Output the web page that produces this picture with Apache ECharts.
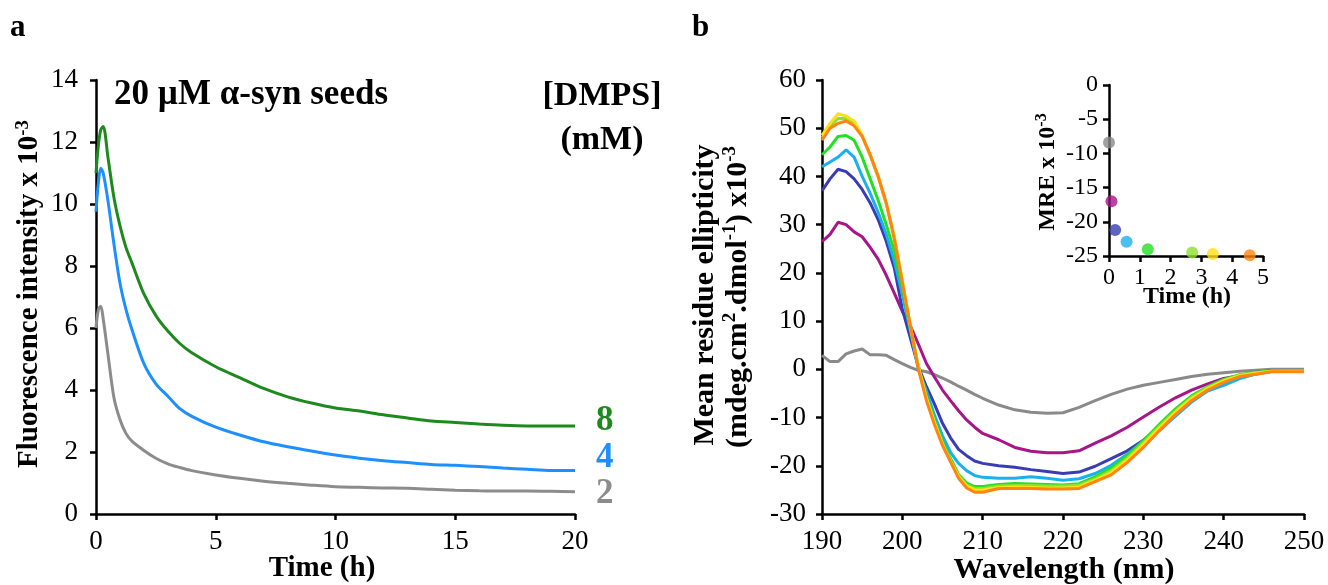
<!DOCTYPE html>
<html>
<head>
<meta charset="utf-8">
<script src="https://cdn.jsdelivr.net/npm/echarts@6/dist/echarts.min.js"></script>
<style>
  html, body { margin: 0; padding: 0; background: #fff; }
  #main { width: 1328px; height: 585px; }
</style>
</head>
<body>
<div id="main"></div>
<script>
// ---------- panel a : fluorescence vs time ----------
var timeH = [0, 0.1, 0.2, 0.3, 0.5, 0.75, 1, 1.25, 1.5, 2, 2.5, 3, 3.5, 4, 5, 6, 7, 8, 9, 10, 11, 12, 13, 14, 15, 16, 17, 18, 19, 20];
var dmps8 = [11.0, 11.9, 12.4, 12.5, 11.5, 10.2, 9.3, 8.6, 8.1, 7.1, 6.4, 5.9, 5.5, 5.2, 4.75, 4.4, 4.05, 3.78, 3.58, 3.42, 3.32, 3.2, 3.1, 3.0, 2.95, 2.9, 2.86, 2.84, 2.84, 2.84];
var dmps4 = [9.75, 10.7, 11.15, 11.0, 10.1, 8.7, 7.45, 6.6, 5.95, 4.85, 4.2, 3.8, 3.4, 3.15, 2.8, 2.55, 2.33, 2.17, 2.03, 1.9, 1.8, 1.72, 1.66, 1.6, 1.57, 1.53, 1.48, 1.44, 1.40, 1.40];
var dmps2 = [6.0, 6.6, 6.7, 6.3, 5.15, 3.75, 3.05, 2.6, 2.35, 2.05, 1.8, 1.62, 1.5, 1.4, 1.26, 1.15, 1.06, 0.99, 0.93, 0.88, 0.86, 0.84, 0.83, 0.8, 0.77, 0.75, 0.74, 0.74, 0.73, 0.72];
var dmpsLabels = ['8', '4', '2'];

// ---------- panel b : CD spectra ----------
var wavelength = [190, 191, 192, 193, 194, 195, 196, 197, 198, 199, 200, 201, 202, 203, 204, 205, 206, 207, 208, 209, 210,
    212, 214, 216, 218, 220, 222, 224, 226, 228, 230, 232, 234, 236, 238, 240, 242, 244, 246, 248, 250];
var cdGray = [2.9, 1.6, 1.6, 3.2, 3.8, 4.2, 3.0, 3.0, 2.9, 2.0, 1.2, 0.4, -0.2, -0.5, -1.1, -1.8, -2.6, -3.5, -4.3, -5.2, -6.0,
    -7.4, -8.4, -8.9, -9.1, -9.0, -7.9, -6.5, -5.2, -4.1, -3.3, -2.7, -2.1, -1.5, -1.0, -0.7, -0.4, -0.2, 0, 0, 0];
var cdMagenta = [26.5, 28, 30.5, 30, 28.5, 27.5, 25.3, 22.8, 19.5, 15.8, 12.0, 9.0, 5.2, 1.2, -1.6, -4.3, -6.5, -8.6, -10.5, -12.0, -13.3,
    -14.6, -16.2, -17.0, -17.3, -17.3, -16.9, -15.3, -13.8, -12.0, -9.9, -7.8, -5.9, -4.3, -3.0, -1.9, -1.3, -0.6, -0.3, -0.3, -0.3];
var cdDarkBlue = [37, 39.5, 41.5, 41, 39.5, 37.3, 34.5, 31, 26.5, 21, 12.5, 6.5, 0.5, -3.6, -7.2, -11.2, -14.2, -16.6, -17.9, -19.0, -19.5,
    -20.0, -20.3, -20.8, -21.2, -21.6, -21.3, -20.1, -18.5, -16.9, -14.7, -12.0, -9.2, -6.6, -4.3, -2.9, -1.7, -0.9, -0.4, -0.3, -0.3];
var cdLightBlue = [42, 43, 44, 45.5, 44, 40, 36.5, 32.5, 28, 22.5, 15.5, 8, 0, -4.5, -9.5, -13.8, -17.2, -19.5, -21.0, -22.0, -22.4,
    -22.6, -22.6, -22.3, -22.6, -23.0, -22.7, -21.6, -19.9, -17.6, -14.9, -12.7, -9.7, -6.8, -4.5, -3.3, -1.9, -1.0, -0.4, -0.3, -0.3];
var cdGreen = [44.5, 46.1, 48.3, 48.5, 47.5, 44, 39.5, 35, 30, 24.5, 17, 8.5, 0.5, -5.5, -10.5, -15, -18.5, -21.8, -23.6, -24.3, -24.3,
    -23.9, -23.7, -23.8, -23.9, -24.0, -23.7, -22.3, -20.5, -17.9, -14.8, -11.4, -8.2, -5.5, -3.6, -2.1, -1.1, -0.6, -0.3, -0.3, -0.3];
var cdYellowGreen = [48, 50.5, 52, 52, 51, 48.5, 44.3, 39.8, 34.3, 27.5, 18.3, 9, 0.5, -6, -11, -15.5, -19, -22, -24, -24.7, -24.7,
    -24.2, -24.1, -24.1, -24.2, -24.2, -24.0, -22.7, -21.0, -18.4, -15.2, -11.8, -8.6, -5.8, -3.8, -2.3, -1.2, -0.7, -0.4, -0.4, -0.4];
var cdYellow = [48.5, 51, 53, 52.5, 51.5, 48.5, 44.5, 40, 34.5, 27.5, 18.5, 9, 0.5, -6, -11, -15.5, -19, -22.3, -24.2, -25, -25,
    -24.5, -24.4, -24.5, -24.6, -24.6, -24.4, -23, -21.4, -18.8, -15.6, -12.2, -8.9, -6.1, -4, -2.4, -1.3, -0.8, -0.4, -0.4, -0.4];
var cdOrange = [47.5, 50.0, 51.0, 51.5, 50.5, 48.3, 44.5, 40.0, 34.5, 27.0, 18.0, 9.0, 0, -6.5, -11.5, -15.8, -19.2, -22.6, -24.6, -25.5, -25.5,
    -24.7, -24.7, -24.7, -24.8, -24.8, -24.7, -23.3, -21.9, -19.3, -16.2, -12.7, -9.4, -6.5, -4.3, -2.7, -1.5, -1.0, -0.5, -0.5, -0.5];

// ---------- inset : MRE vs time ----------
var mreTime = [0, 0.08, 0.2, 0.57, 1.26, 2.7, 3.37, 4.57];
var mreValue = [-8.4, -17.0, -21.2, -22.9, -24.0, -24.5, -24.7, -24.9];

var cdColors = ['#8a8a8a', '#a8148a', '#3a3cb4', '#1ab0ee', '#22e022', '#8fe030', '#ffe014', '#ff8412'];
var aColors = ['#1e8a1e', '#1e8fff', '#8c8c8c'];

var serif = 'Liberation Serif';

function axisStyle(fontSize, margin) {
    return {
        axisLine: { onZero: false, lineStyle: { color: '#000', width: 2.5 } },
        axisTick: { show: true, length: 6, lineStyle: { color: '#000', width: 2.5 } },
        axisLabel: { color: '#000', fontFamily: serif, fontSize: fontSize, margin: margin },
        splitLine: { show: false }
    };
}

// 粗体文字
function boldText(x, y, text, size, color, align) {
    return {
        type: 'text', x: x, y: y,
        style: {
            text: text, fontFamily: serif, fontSize: size, fontWeight: 'bold', fill: color || '#000',
            textAlign: align || 'center', textVerticalAlign: 'middle'
        }
    };
}

// 竖排标题（带上标）
function vertTitle(x, y, text, size, supSize) {
    return {
        type: 'text', x: x, y: y, rotation: Math.PI / 2,
        style: {
            text: text, fontFamily: serif, fontSize: size, fontWeight: 'bold', fill: '#000',
            textAlign: 'center', textVerticalAlign: 'middle',
            rich: { sup: { fontFamily: serif, fontSize: supSize, fontWeight: 'bold', verticalAlign: 'top', lineHeight: size + 4 } }
        }
    };
}

var chart = echarts.init(document.getElementById('main'));

var cdSets = [cdGray, cdMagenta, cdDarkBlue, cdLightBlue, cdGreen, cdYellowGreen, cdYellow, cdOrange];
var series = [];

// panel a lines
[dmps2, dmps4, dmps8].forEach(function (vals, i) {
    series.push({
        type: 'line',
        xAxisIndex: 0, yAxisIndex: 0,
        data: timeH.map(function (t, k) { return [t, vals[k]]; }),
        showSymbol: false,
        smooth: 0.3,
        lineStyle: { color: aColors[2 - i], width: 3 }
    });
});

// panel b lines
cdSets.forEach(function (vals, i) {
    series.push({
        type: 'line',
        xAxisIndex: 1, yAxisIndex: 1,
        data: wavelength.map(function (w, k) { return [w, vals[k]]; }),
        showSymbol: false,
        lineStyle: { color: cdColors[i], width: 3 }
    });
});

// inset dots
series.push({
    type: 'scatter',
    xAxisIndex: 2, yAxisIndex: 2,
    symbolSize: 12,
    data: mreTime.map(function (t, k) {
        return { value: [t, mreValue[k]], itemStyle: { color: cdColors[k] } };
    })
});

var option = {
    backgroundColor: '#fff',
    animation: false,
    textStyle: { fontFamily: serif },
    grid: [
        { left: 96, top: 80, width: 479, height: 434 },
        { left: 822, top: 80, width: 482, height: 434 },
        { left: 1109, top: 85, width: 154, height: 171 }
    ],
    xAxis: [
        Object.assign({ gridIndex: 0, type: 'value', min: 0, max: 20, interval: 5 }, axisStyle(27, 14)),
        Object.assign({ gridIndex: 1, type: 'value', min: 190, max: 250, interval: 10 }, axisStyle(27, 14)),
        Object.assign({ gridIndex: 2, type: 'value', min: 0, max: 5, interval: 1 }, axisStyle(24, 10))
    ],
    yAxis: [
        Object.assign({ gridIndex: 0, type: 'value', min: 0, max: 14, interval: 2 }, axisStyle(27, 18)),
        Object.assign({ gridIndex: 1, type: 'value', min: -30, max: 60, interval: 10 }, axisStyle(27, 16)),
        Object.assign({ gridIndex: 2, type: 'value', min: -25, max: 0, interval: 5 }, axisStyle(24, 11))
    ],
    graphic: [
        boldText(10, 28, 'a', 31, '#000', 'left'),
        boldText(692, 28, 'b', 31, '#000', 'left'),
        boldText(114, 95, '20 µM α-syn seeds', 35, '#000', 'left'),
        boldText(602, 96, '[DMPS]', 34),
        boldText(602, 140, '(mM)', 34),
        boldText(596, 421, dmpsLabels[0], 35, aColors[0], 'left'),
        boldText(596, 458, dmpsLabels[1], 35, aColors[1], 'left'),
        boldText(596, 494, dmpsLabels[2], 35, aColors[2], 'left'),
        boldText(322, 569, 'Time (h)', 29),
        boldText(1064, 570, 'Wavelength (nm)', 30),
        boldText(1187, 297, 'Time (h)', 24),
        vertTitle(30, 294, 'Fluorescence intensity x 10{sup|-3}', 29, 19),
        vertTitle(705, 295, 'Mean residue ellipticity', 30, 19),
        vertTitle(738, 297, '(mdeg.cm{sup|2}.dmol{sup|-1}) x10{sup|-3}', 30, 19),
        vertTitle(1048, 172, 'MRE x 10{sup|-3}', 24, 16)
    ],
    series: series
};

chart.setOption(option);
</script>
</body>
</html>
